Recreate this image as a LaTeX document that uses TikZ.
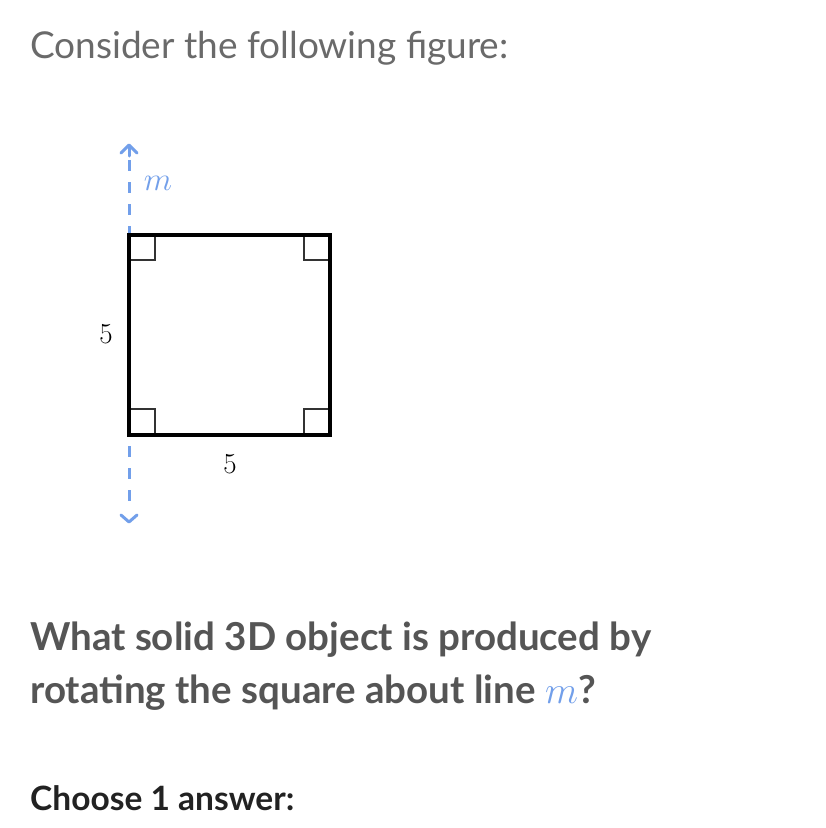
\documentclass[tikz,border=0pt]{standalone}
\usepackage{fix-cm}
\usepackage{fontspec}
\setmainfont{Lato}
\usetikzlibrary{arrows.meta}
\definecolor{axisblue}{HTML}{729FEA}
\definecolor{lightgray}{HTML}{6A6A6A}
\definecolor{qgray}{HTML}{555555}
\definecolor{darktext}{HTML}{222222}
\tikzset{
  sq/.style={line width=3.6pt, line join=miter},
  rmark/.style={line width=1.8pt, draw=black!80},
  axis/.style={draw=axisblue, line width=3pt, dash pattern=on 11pt off 11pt},
  tip/.style={draw=axisblue, line width=3pt, line cap=round, line join=round},
  lbl/.style={font=\fontsize{29}{34}\selectfont},
}
\begin{document}
\begin{tikzpicture}[x=1pt,y=-1pt]
\useasboundingbox[fill=white] (0,0) rectangle (826,828);
% texts
\node[anchor=base west, inner sep=0, text=lightgray, font=\fontsize{37}{40}\selectfont] (t1) at (30,58) {Consider the following figure:};
\node[anchor=base west, inner sep=0, text=qgray, font=\fontsize{38.5}{44}\selectfont\bfseries] (t2) at (30,650) {What solid 3D object is produced by};
\node[anchor=base west, inner sep=0, text=qgray, font=\fontsize{38.5}{44}\selectfont\bfseries] (t3) at (30,703) {rotating the square about line \textcolor{axisblue}{$m$}?};
\node[anchor=base west, inner sep=0, text=darktext, font=\fontsize{33.5}{38}\selectfont\bfseries] (t4) at (30,810) {Choose 1 answer:};
% axis
\coordinate (top) at (129,145);
\coordinate (bot) at (129,520);
\draw[axis] (129,160) -- (129,512);
\draw[tip] (121,153) -- (129,145) -- (137,153);
\draw[tip] (121,515) -- (129,522) -- (137,515);
\draw[tip] (129,146) -- (129,156);
% square
\coordinate (A) at (129,235);
\coordinate (B) at (330,235);
\coordinate (C) at (330,435);
\coordinate (D) at (129,435);
\draw[rmark] (129,260) -- (155,260) -- (155,235);
\draw[rmark] (304,235) -- (304,260) -- (330,260);
\draw[rmark] (129,409) -- (155,409) -- (155,435);
\draw[rmark] (304,435) -- (304,409) -- (330,409);
\draw[sq] (A) -- (B) -- (C) -- (D) -- cycle;
% labels
\node[text=axisblue, font=\fontsize{33}{38}\selectfont] (m) at (158,183) {$m$};
\node[lbl] (l1) at (106,334) {$5$};
\node[lbl] (l2) at (230,464) {$5$};
\end{tikzpicture}
\end{document}
